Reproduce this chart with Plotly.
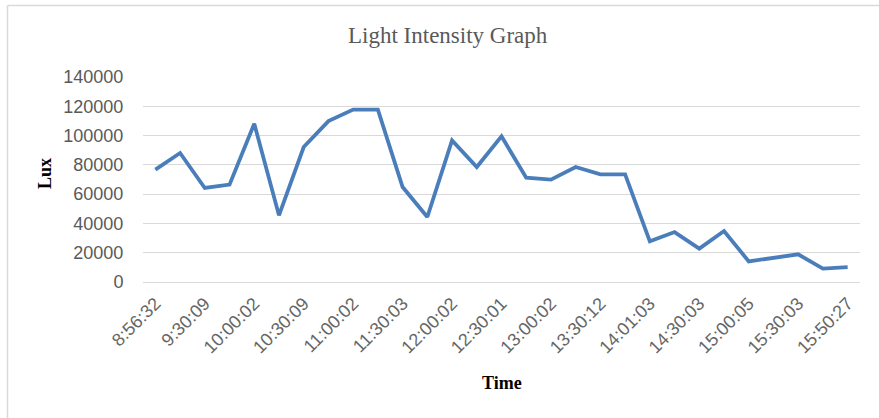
import plotly.graph_objects as go

# ---- data ----
tick_labels = ["8:56:32", "9:30:09", "10:00:02", "10:30:09", "11:00:02", "11:30:03",
               "12:00:02", "12:30:01", "13:00:02", "13:30:12", "14:01:03", "14:30:03",
               "15:00:05", "15:30:03", "15:50:27"]
lux = [76700, 88100, 64200, 66500, 108100, 45500, 92200, 109900, 117700, 117700,
       64900, 44400, 96700, 78500, 99500, 71200, 69900, 78500, 73500, 73500,
       27800, 34100, 22800, 34800, 14100, 16400, 18900, 9100, 10200]
idx = list(range(len(lux)))
tick_pos = idx[::2]

W, H = 879, 418
L, R, T, B = 143, 19, 77, 136
pw, ph = W - L - R, H - T - B

def px(X):
    return (X - L) / pw

def py(Y):
    return (H - B - Y) / ph

fig = go.Figure()
fig.add_trace(go.Scatter(x=idx, y=lux, mode="lines",
                         line=dict(color="#4A7EBB", width=3.8),
                         hoverinfo="y", showlegend=False))

fig.update_layout(
    width=W, height=H,
    margin=dict(l=L, r=R, t=T, b=B, pad=0),
    paper_bgcolor="white", plot_bgcolor="white",
    xaxis=dict(range=[-0.5, len(lux) - 0.5], tickmode="array",
               tickvals=tick_pos, ticktext=tick_labels, tickangle=-45,
               showgrid=False, zeroline=False, showline=False, automargin=False,
               tickfont=dict(family="Liberation Sans, Arial", size=18, color="#666666"),
               ticks="outside", ticklen=3, tickcolor="rgba(0,0,0,0)"),
    yaxis=dict(range=[0, 140000], dtick=20000, tickformat="d", automargin=False,
               showgrid=True, gridcolor="#D9D9D9", gridwidth=1,
               zeroline=True, zerolinecolor="#D9D9D9", zerolinewidth=1,
               showline=False,
               tickfont=dict(family="Liberation Sans, Arial", size=18, color="#595959"),
               ticks="outside", ticklen=15, tickcolor="rgba(0,0,0,0)"),
    annotations=[
        dict(text="Light Intensity Graph", xref="paper", yref="paper",
             x=px(448), y=py(35), showarrow=False, xanchor="center", yanchor="middle",
             font=dict(family="Liberation Serif, Times New Roman", size=23, color="#595959")),
        dict(text="<b>Time</b>", xref="paper", yref="paper",
             x=px(502), y=py(383), showarrow=False, xanchor="center", yanchor="middle",
             font=dict(family="Liberation Serif, Times New Roman", size=18, color="#000000")),
        dict(text="<b>Lux</b>", xref="paper", yref="paper", textangle=-90,
             x=px(45), y=py(174), showarrow=False, xanchor="center", yanchor="middle",
             font=dict(family="Liberation Serif, Times New Roman", size=18, color="#000000")),
    ],
    shapes=[
        dict(type="line", xref="paper", yref="paper", x0=px(7.5), x1=px(W + 5),
             y0=py(5.5), y1=py(5.5), line=dict(color="#D9D9D9", width=1.5)),
        dict(type="line", xref="paper", yref="paper", x0=px(7.5), x1=px(7.5),
             y0=py(5.5), y1=py(H + 5), line=dict(color="#D9D9D9", width=1.5)),
    ],
)

fig.write_html("out.html", config={"displayModeBar": False},
               post_script="document.body.style.margin='0';document.body.style.overflow='hidden';")
